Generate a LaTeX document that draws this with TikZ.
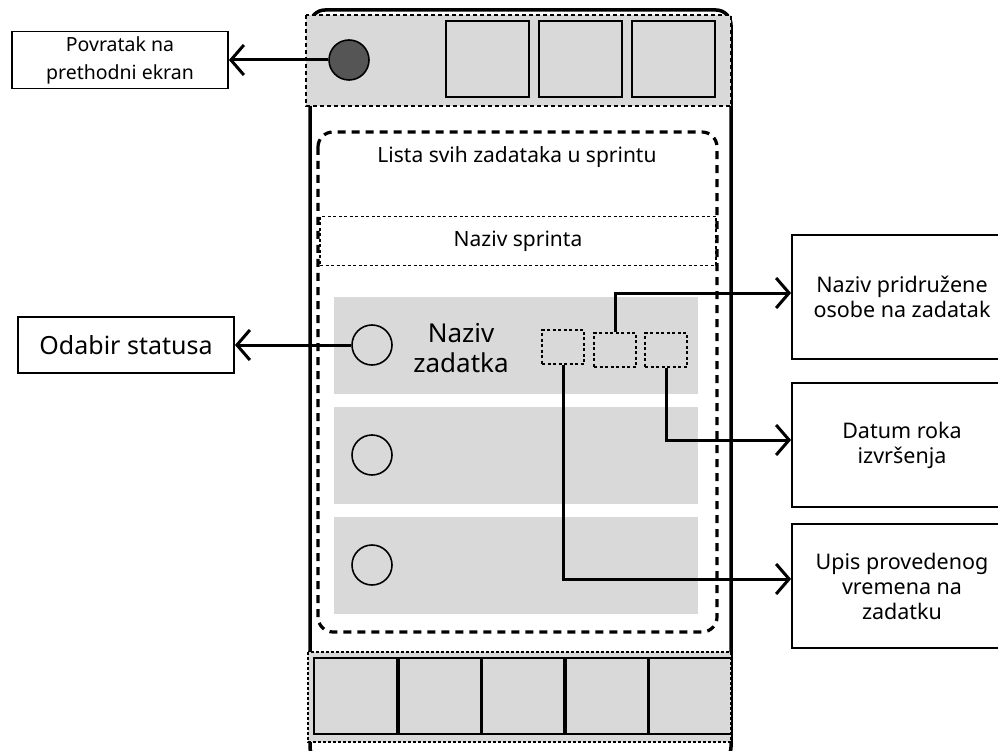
\documentclass[tikz,border=0pt]{standalone}
\usepackage{fontspec}
\setmainfont{Noto Sans}
\usetikzlibrary{arrows.meta}

\definecolor{panel}{HTML}{D9D9D9}
\definecolor{knob}{HTML}{555555}

\tikzset{
  infobox/.style={draw, line width=1.8pt, fill=white, align=center, inner sep=0pt},
  slot/.style={draw, line width=1.3pt, dash pattern=on 3pt off 2.5pt, inner sep=0pt},
  dot/.style={circle, draw, line width=1.6pt, minimum size=40pt, inner sep=0pt},
  link/.style={line width=3pt,
    -{Straight Barb[length=13pt,width=30pt,line width=3pt]}},
}

\begin{document}
\begin{tikzpicture}[x=1pt, y=-1pt]
  \clip (0,0) rectangle (998,751);

  % PHONE
  \draw[line width=3.5pt, rounded corners=15pt] (310,10) rectangle (731,762);

  % TOP BAR
  \draw[fill=panel, line width=2pt, dash pattern=on 4pt off 3pt] (306,15) rectangle (731,106);
  \foreach \x in {446,539,632}
    \draw[line width=1.8pt] (\x,21) rectangle ++(83,76);
  \node[dot, fill=knob] (backbtn) at (349,60) {};

  % CONTENT
  \draw[line width=3.2pt, dash pattern=on 8pt off 6pt, rounded corners=15pt] (318,132) rectangle (717,632);
  \node[font=\fontsize{21}{25}\selectfont] (title) at (517,157) {Lista svih zadataka u sprintu};
  \node[slot, minimum width=396pt, minimum height=49pt, font=\fontsize{21}{25}\selectfont]
    (sprint) at (518,241) {Naziv sprinta};

  % TASK ROWS
  \foreach \y in {297,407,517}
    \fill[panel] (334,\y) rectangle (698,\y+97);
  \node[dot] (st1) at (372,345) {};
  \node[dot] (st2) at (372,455) {};
  \node[dot] (st3) at (372,565) {};
  \node[align=center, font=\fontsize{26}{30}\selectfont] (task) at (461,348) {Naziv\\zadatka};
  \node[slot, minimum width=42pt, minimum height=34pt] (timeslot) at (563,347) {};
  \node[slot, minimum width=42pt, minimum height=34pt] (userslot) at (615,350) {};
  \node[slot, minimum width=42pt, minimum height=34pt] (dateslot) at (666,350) {};

  % BOTTOM BAR
  \draw[fill=panel, line width=1.8pt, dash pattern=on 3pt off 2pt] (308,652) rectangle (731,742);
  \foreach \x in {314,398,482,565,649}
    \draw[line width=1.8pt] (\x,658) rectangle ++(83,76);
  \draw[line width=3.5pt] (398,658) -- (398,734);
  \draw[line width=3.5pt] (565,658) -- (565,734);

  % LABELS
  \node[infobox, minimum width=216pt, minimum height=57pt, font=\fontsize{19.5}{28}\selectfont]
    (back) at (120,60) {Povratak na\\prethodni ekran};
  \node[infobox, minimum width=216pt, minimum height=56pt, font=\fontsize{25}{30}\selectfont]
    (status) at (126,345) {Odabir statusa};
  \node[infobox, minimum width=220pt, minimum height=124pt, font=\fontsize{21.5}{25}\selectfont]
    (userinfo) at (902,297) {Naziv pridružene\\osobe na zadatak};
  \node[infobox, minimum width=220pt, minimum height=124pt, font=\fontsize{21.5}{25}\selectfont]
    (dateinfo) at (902,445) {Datum roka\\izvršenja};
  \node[infobox, minimum width=220pt, minimum height=124pt, font=\fontsize{21.5}{25}\selectfont]
    (timeinfo) at (902,586) {Upis provedenog\\vremena na\\zadatku};

  % ARROWS
  \draw[link] (backbtn.west) -- (back.east);
  \draw[link] (st1.west) -- (status.east);
  \draw[link] (userslot.north) |- ([yshift=4pt]userinfo.west);
  \draw[link] (dateslot.south) |- ([yshift=5pt]dateinfo.west);
  \draw[link] (timeslot.south) |- ([yshift=7pt]timeinfo.west);
\end{tikzpicture}
\end{document}
